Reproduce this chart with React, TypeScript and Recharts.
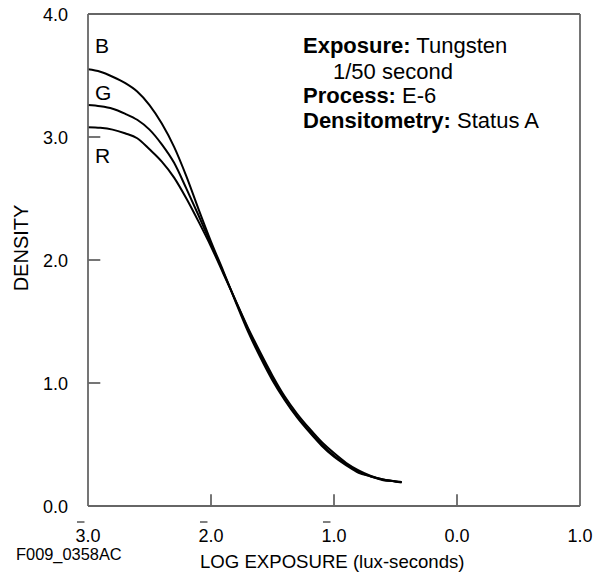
import React from 'react';
import { LineChart, Line, XAxis, YAxis, ReferenceLine } from 'recharts';

// log exposure (lux-seconds), bar notation: -3 = 3̄.0
const logExposure = [
  -3.0, -2.9, -2.8, -2.7, -2.6, -2.5, -2.4, -2.3, -2.2, -2.1, -2.0, -1.9, -1.8, -1.7,
  -1.6, -1.5, -1.4, -1.3, -1.2, -1.1, -1.0, -0.9, -0.8, -0.7, -0.6, -0.5, -0.45,
];
const blueDensity = [
  3.55, 3.53, 3.49, 3.44, 3.37, 3.26, 3.11, 2.92, 2.68, 2.41, 2.15, 1.91, 1.66, 1.42,
  1.21, 1.02, 0.86, 0.72, 0.6, 0.49, 0.4, 0.33, 0.27, 0.24, 0.21, 0.2, 0.19,
];
const greenDensity = [
  3.26, 3.25, 3.23, 3.19, 3.14, 3.06, 2.94, 2.79, 2.58, 2.36, 2.13, 1.9, 1.67, 1.44,
  1.23, 1.04, 0.87, 0.73, 0.61, 0.5, 0.41, 0.34, 0.28, 0.24, 0.215, 0.2, 0.195,
];
const redDensity = [
  3.08, 3.075, 3.06, 3.03, 2.99, 2.9, 2.8, 2.67, 2.5, 2.31, 2.11, 1.89, 1.67, 1.45,
  1.25, 1.06, 0.89, 0.75, 0.63, 0.52, 0.43, 0.35, 0.29, 0.245, 0.215, 0.2, 0.195,
];

const xTicks = [-3, -2, -1, 0, 1];
const xTickLabels = ['3.0', '2.0', '1.0', '0.0', '1.0'];
const xTickBars = [true, true, true, false, false];
const yTicks = [0, 1, 2, 3, 4];
const yTickLabels = ['0.0', '1.0', '2.0', '3.0', '4.0'];
// inner tick marks (drawn inward from the frame)
const xInnerTicks = [-2, -1, 0];
const yInnerTicks = [1, 2, 3];

const data = logExposure.map((x, i) => ({
  x,
  B: blueDensity[i],
  G: greenDensity[i],
  R: redDensity[i],
}));

const FONT = '"Liberation Sans", Arial, Helvetica, sans-serif';
const AXIS = '#666666';
const TICK_FS = 18;

const XTick = ({ x, y, payload }: any) => {
  const i = xTicks.indexOf(payload.value);
  const w = 1.39 * TICK_FS;
  const left = x - w / 2;
  return (
    <g>
      <text x={x} y={y + 36} textAnchor="middle" fontSize={TICK_FS} fontFamily={FONT} fill="#000">
        {xTickLabels[i]}
      </text>
      {xTickBars[i] && (
        <line x1={left + 1.5} x2={left + 0.556 * TICK_FS - 1} y1={y + 16} y2={y + 16} stroke="#000" strokeWidth={1} />
      )}
    </g>
  );
};

const YTick = ({ x, y, payload }: any) => {
  const i = yTicks.indexOf(payload.value);
  return (
    <text x={x - 20} y={y + 7} textAnchor="end" fontSize={TICK_FS} fontFamily={FONT} fill="#000">
      {yTickLabels[i]}
    </text>
  );
};

export default function App() {
  return (
    <div style={{ position: 'absolute', left: 0, top: 0, width: 605, height: 576, background: '#fff' }}>
      <LineChart width={605} height={576} data={data} margin={{ top: 14, right: 25, left: 0, bottom: 0 }}>
        <XAxis
          dataKey="x"
          type="number"
          domain={[-3, 1]}
          ticks={xTicks}
          height={70}
          tickSize={0}
          tickMargin={0}
          tick={<XTick />}
          axisLine={{ stroke: AXIS, strokeWidth: 1.8 }}
          allowDataOverflow
        />
        <YAxis
          type="number"
          domain={[0, 4]}
          ticks={yTicks}
          width={88}
          tickSize={0}
          tickMargin={0}
          tick={<YTick />}
          axisLine={{ stroke: AXIS, strokeWidth: 1.8 }}
          allowDataOverflow
        />
        <ReferenceLine y={4} stroke={AXIS} strokeWidth={1.8} />
        <ReferenceLine x={1} stroke={AXIS} strokeWidth={1.8} />
        {xInnerTicks.map((v) => (
          <ReferenceLine
            key={`xt${v}`}
            segment={[{ x: v, y: 0 }, { x: v, y: 0.095 }]}
            stroke={AXIS}
            strokeWidth={1.8}
          />
        ))}
        {yInnerTicks.map((v) => (
          <ReferenceLine
            key={`yt${v}`}
            segment={[{ x: -3, y: v }, { x: -2.9, y: v }]}
            stroke={AXIS}
            strokeWidth={1.8}
          />
        ))}
        <Line type="monotone" dataKey="B" stroke="#000" strokeWidth={2} dot={false} isAnimationActive={false} />
        <Line type="monotone" dataKey="G" stroke="#000" strokeWidth={2} dot={false} isAnimationActive={false} />
        <Line type="monotone" dataKey="R" stroke="#000" strokeWidth={2} dot={false} isAnimationActive={false} />
      </LineChart>
      <svg
        width={605}
        height={576}
        style={{ position: 'absolute', left: 0, top: 0, pointerEvents: 'none' }}
        fontFamily={FONT}
      >
        <text x={95} y={53} fontSize={21}>B</text>
        <text x={95} y={100} fontSize={21}>G</text>
        <text x={95} y={163} fontSize={21}>R</text>
        <text x={303} y={53} fontSize={22}>
          <tspan fontWeight="bold">Exposure:</tspan> Tungsten
        </text>
        <text x={333} y={79} fontSize={22}>1/50 second</text>
        <text x={303} y={103} fontSize={22}>
          <tspan fontWeight="bold">Process:</tspan> E-6
        </text>
        <text x={303} y={128} fontSize={22}>
          <tspan fontWeight="bold">Densitometry:</tspan> Status A
        </text>
        <text x={28} y={248} fontSize={20} textAnchor="middle" transform="rotate(-90 28 248)">DENSITY</text>
        <text x={200} y={568} fontSize={18.6}>LOG EXPOSURE (lux-seconds)</text>
        <text x={16} y={560} fontSize={16.4}>F009_0358AC</text>
      </svg>
    </div>
  );
}
